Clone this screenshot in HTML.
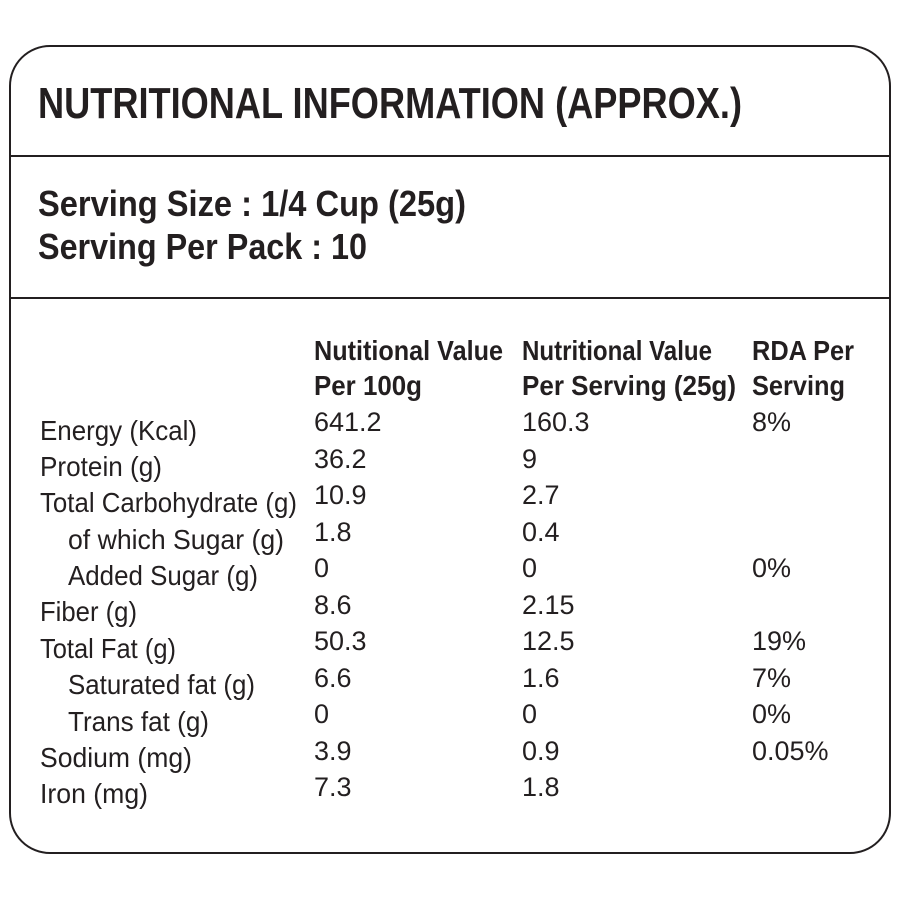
<!DOCTYPE html>
<html><head><meta charset="utf-8"><style>
html,body{margin:0;padding:0;background:#fff;}
svg{display:block;}
text{font-family:"Liberation Sans Narrow","Liberation Sans",sans-serif;fill:#231f20;}
.b{font-weight:bold;}
</style></head><body>
<svg width="900" height="900" viewBox="0 0 900 900" xmlns="http://www.w3.org/2000/svg">
<rect x="10" y="46" width="880" height="807" rx="40" ry="40" fill="#fff" stroke="#231f20" stroke-width="2"/>
<line x1="10" y1="156" x2="890" y2="156" stroke="#231f20" stroke-width="2"/>
<line x1="10" y1="298" x2="890" y2="298" stroke="#231f20" stroke-width="2"/>
<text class="b" x="38" y="118" font-size="44" textLength="704" lengthAdjust="spacingAndGlyphs">NUTRITIONAL INFORMATION (APPROX.)</text>
<text class="b" x="38" y="216" font-size="36" textLength="428" lengthAdjust="spacingAndGlyphs">Serving Size : 1/4 Cup (25g)</text>
<text class="b" x="38" y="259" font-size="36" textLength="329" lengthAdjust="spacingAndGlyphs">Serving Per Pack : 10</text>
<g font-size="28">
<text class="b" x="314" y="360" textLength="189" lengthAdjust="spacingAndGlyphs">Nutitional Value</text>
<text class="b" x="314" y="395" textLength="108" lengthAdjust="spacingAndGlyphs">Per 100g</text>
<text class="b" x="522" y="360" textLength="190" lengthAdjust="spacingAndGlyphs">Nutritional Value</text>
<text class="b" x="522" y="395" textLength="214" lengthAdjust="spacingAndGlyphs">Per Serving (25g)</text>
<text class="b" x="752" y="360" textLength="102" lengthAdjust="spacingAndGlyphs">RDA Per</text>
<text class="b" x="752" y="395" textLength="93" lengthAdjust="spacingAndGlyphs">Serving</text>

<text x="40" y="440" textLength="157" lengthAdjust="spacingAndGlyphs">Energy (Kcal)</text>
<text x="40" y="476" textLength="122" lengthAdjust="spacingAndGlyphs">Protein (g)</text>
<text x="40" y="512" textLength="257" lengthAdjust="spacingAndGlyphs">Total Carbohydrate (g)</text>
<text x="68" y="549" textLength="216" lengthAdjust="spacingAndGlyphs">of which Sugar (g)</text>
<text x="68" y="585" textLength="190" lengthAdjust="spacingAndGlyphs">Added Sugar (g)</text>
<text x="40" y="621" textLength="97" lengthAdjust="spacingAndGlyphs">Fiber (g)</text>
<text x="40" y="658" textLength="136" lengthAdjust="spacingAndGlyphs">Total Fat (g)</text>
<text x="68" y="694" textLength="187" lengthAdjust="spacingAndGlyphs">Saturated fat (g)</text>
<text x="68" y="731" textLength="141" lengthAdjust="spacingAndGlyphs">Trans fat (g)</text>
<text x="40" y="767" textLength="152" lengthAdjust="spacingAndGlyphs">Sodium (mg)</text>
<text x="40" y="803" textLength="108" lengthAdjust="spacingAndGlyphs">Iron (mg)</text>
</g>
<g font-size="27">
<text x="314" y="431">641.2</text><text x="522" y="431">160.3</text><text x="752" y="431">8%</text>
<text x="314" y="468">36.2</text><text x="522" y="468">9</text>
<text x="314" y="504">10.9</text><text x="522" y="504">2.7</text>
<text x="314" y="541">1.8</text><text x="522" y="541">0.4</text>
<text x="314" y="577">0</text><text x="522" y="577">0</text><text x="752" y="577">0%</text>
<text x="314" y="614">8.6</text><text x="522" y="614">2.15</text>
<text x="314" y="650">50.3</text><text x="522" y="650">12.5</text><text x="752" y="650">19%</text>
<text x="314" y="687">6.6</text><text x="522" y="687">1.6</text><text x="752" y="687">7%</text>
<text x="314" y="723">0</text><text x="522" y="723">0</text><text x="752" y="723">0%</text>
<text x="314" y="760">3.9</text><text x="522" y="760">0.9</text><text x="752" y="760">0.05%</text>
<text x="314" y="796">7.3</text><text x="522" y="796">1.8</text>
</g>
</svg>
</body></html>
